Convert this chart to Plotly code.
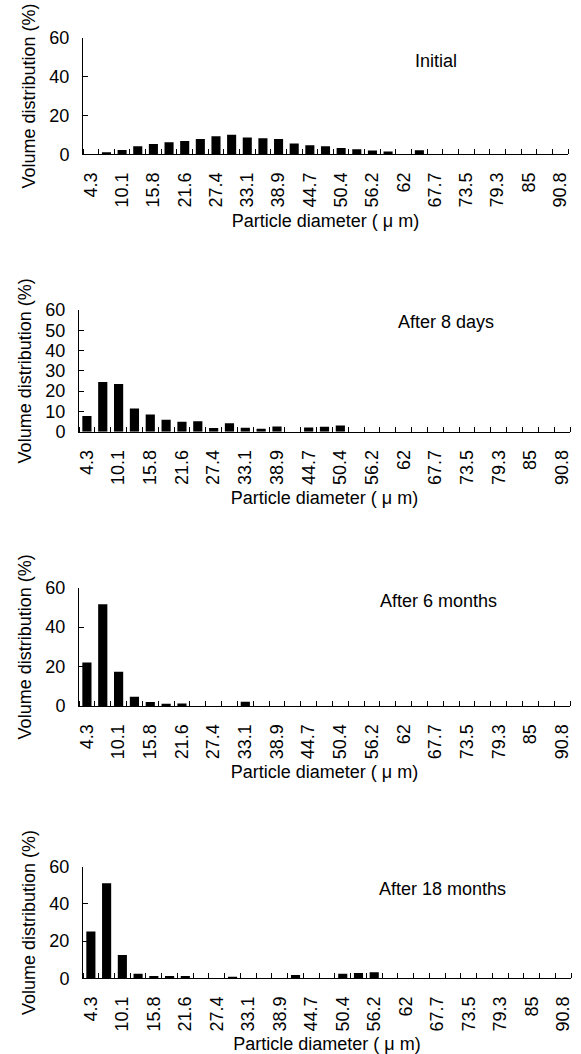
import plotly.graph_objects as go

# Tick labels (every other size class is labelled)
tick_labels = ["4.3", "10.1", "15.8", "21.6", "27.4", "33.1", "38.9", "44.7",
               "50.4", "56.2", "62", "67.7", "73.5", "79.3", "85", "90.8"]
n_bins = 31

initial = [0, 1.0, 2.2, 4.1, 5.3, 6.2, 6.9, 7.9, 9.3, 10.0, 8.6, 8.3, 7.9, 5.5, 4.7,
           4.1, 3.3, 2.6, 1.9, 1.4, 0, 2.1, 0, 0, 0, 0, 0, 0, 0, 0, 0]
after_8_days = [7.7, 24.5, 23.5, 11.4, 8.5, 5.9, 4.9, 5.2, 1.8, 4.2, 2.0, 1.5, 2.6, 0,
                2.1, 2.5, 3.1, 0, 0, 0, 0, 0, 0, 0, 0, 0, 0, 0, 0, 0, 0]
after_6_months = [22.1, 51.6, 17.4, 4.7, 2.0, 1.2, 1.3, 0, 0, 0, 2.2, 0, 0, 0, 0, 0,
                  0, 0, 0, 0, 0, 0, 0, 0, 0, 0, 0, 0, 0, 0, 0]
after_18_months = [25.1, 51.1, 12.5, 2.5, 1.3, 1.3, 1.3, 0, 0, 0.9, 0, 0, 0, 1.8, 0, 0,
                   2.5, 2.9, 3.2, 0, 0, 0, 0, 0, 0, 0, 0, 0, 0, 0, 0]

panel_names = ["Initial", "After 8 days", "After 6 months", "After 18 months"]
series = [initial, after_8_days, after_6_months, after_18_months]

W, H = 581, 1054
# pixel layout of each panel: (left, right, top, bottom)
boxes = [(83, 568, 37.7, 154.3),
         (79, 570, 310, 431.7),
         (79, 570, 587.7, 706),
         (83, 571, 866.7, 978.3)]
ann_pos = [(436, 61), (446, 322), (438, 601), (442, 889)]
ydticks = [20, 10, 20, 20]

FONT = "Liberation Sans, Arial, sans-serif"
fig = go.Figure()
xs = list(range(n_bins))
for k, (vals, box) in enumerate(zip(series, boxes)):
    sfx = "" if k == 0 else str(k + 1)
    fig.add_trace(go.Bar(x=xs, y=vals, marker=dict(color="black", line=dict(width=0)),
                         width=0.58, xaxis="x" + sfx, yaxis="y" + sfx, showlegend=False))
    l, r, t, b = box
    xa = dict(domain=[l / W, r / W], anchor="y" + sfx, range=[-0.5, n_bins - 0.5],
              tickmode="array", tickvals=list(range(0, n_bins, 2)), ticktext=tick_labels,
              tickangle=-90, ticks="", showline=True, linecolor="black", linewidth=1,
              showgrid=False, zeroline=False, ticklabelstandoff=10,
              tickfont=dict(family=FONT, size=18, color="black"),
              minor=dict(tickmode="array", tickvals=[i - 0.5 for i in range(n_bins + 1)],
                         ticks="inside", ticklen=5, tickcolor="black", tickwidth=1),
              title=dict(text="Particle diameter ( μ m)", standoff=7,
                         font=dict(family=FONT, size=18, color="black")),
              automargin=False)
    ya = dict(domain=[1 - b / H, 1 - t / H], anchor="x" + sfx, range=[0, 60],
              tickmode="linear", tick0=0, dtick=ydticks[k], ticks="inside", ticklen=5,
              tickcolor="black", showline=True, linecolor="black", linewidth=1,
              showgrid=False, zeroline=False, ticklabelstandoff=9,
              tickfont=dict(family=FONT, size=18, color="black"),
              title=dict(text="Volume distribution (%)", standoff=9,
                         font=dict(family=FONT, size=18, color="black")),
              automargin=False)
    fig.update_layout(**{"xaxis" + sfx: xa, "yaxis" + sfx: ya})
    ax, ay = ann_pos[k]
    fig.add_annotation(x=ax / W, y=1 - ay / H, xref="paper", yref="paper",
                       xanchor="center", yanchor="middle",
                       text=panel_names[k], showarrow=False,
                       font=dict(family=FONT, size=18, color="black"))

fig.update_layout(width=W, height=H, margin=dict(l=0, r=0, t=0, b=0),
                  plot_bgcolor="white", paper_bgcolor="white", bargap=0.42)
fig.write_html("out.html")
